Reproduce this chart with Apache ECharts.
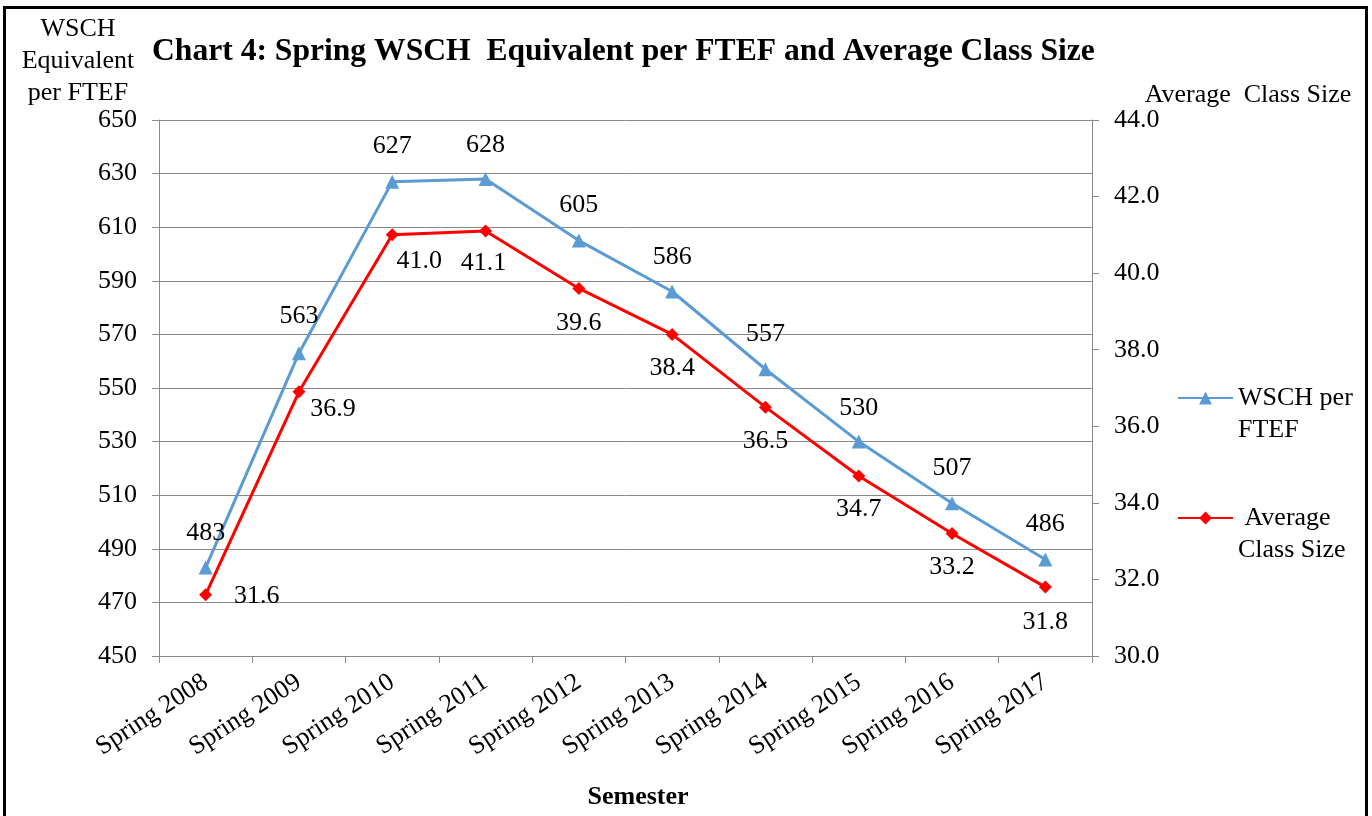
<!DOCTYPE html>
<html>
<head>
<meta charset="utf-8">
<script src="https://cdn.jsdelivr.net/npm/echarts@6/dist/echarts.min.js"></script>
<style>
html, body { margin: 0; padding: 0; background: #fff; }
#chart { position: absolute; left: 0; top: 0; width: 1372px; height: 816px; }
/* black frame round the chart, bottom edge runs off the page */
.frame {
  position: absolute; left: 3px; top: 6px; width: 1359px; height: 900px;
  border: 3px solid #000; pointer-events: none;
}
</style>
</head>
<body>
<div id="chart"></div>
<div class="frame"></div>
<script>
var semesters = ['Spring 2008', 'Spring 2009', 'Spring 2010', 'Spring 2011', 'Spring 2012',
  'Spring 2013', 'Spring 2014', 'Spring 2015', 'Spring 2016', 'Spring 2017'];
var wschPerFtef = [483, 563, 627, 628, 605, 586, 557, 530, 507, 486];
var avgClassSize = [31.6, 36.9, 41.0, 41.1, 39.6, 38.4, 36.5, 34.7, 33.2, 31.8];

// label offsets from the marker centre (styling only)
var wschLabelOffset = [[0, -34], [0, -37], [0, -35], [0, -34], [0, -35], [0, -34], [0, -35], [0, -33], [0, -35], [0, -35]];
var avgLabelOffset = [[51, 1], [34, 17], [27, 26], [-2, 32], [0, 35], [0, 34], [0, 34], [0, 33], [0, 34], [0, 35]];

var FONT = '"Liberation Serif", "Times New Roman", serif';
var GREY = '#898989';

var chart = echarts.init(document.getElementById('chart'));

chart.setOption({
  backgroundColor: '#fff',
  textStyle: { fontFamily: FONT },
  title: {
    text: 'Chart 4: Spring WSCH  Equivalent per FTEF and Average Class Size',
    left: 152, top: 36, padding: 0,
    textStyle: { fontFamily: FONT, fontSize: 31.6, fontWeight: 'bold', color: '#000' }
  },
  grid: { left: 159, right: 280, top: 120, bottom: 160 },
  legend: [
    {
      data: ['WSCH per FTEF'], left: 1177, top: 350, padding: 0, orient: 'vertical',
      itemWidth: 55, itemHeight: 16, itemGap: 5,
      // blank first line keeps the first text line level with the icon
      formatter: function () { return ' \nWSCH per\nFTEF'; },
      textStyle: { fontFamily: FONT, fontSize: 26, color: '#000', lineHeight: 32 }
    },
    {
      data: ['Average Class Size'], left: 1177, top: 470, padding: 0, orient: 'vertical',
      itemWidth: 55, itemHeight: 16, itemGap: 5,
      formatter: function () { return ' \n Average\nClass Size'; },
      textStyle: { fontFamily: FONT, fontSize: 26, color: '#000', lineHeight: 32 }
    }
  ],
  xAxis: {
    type: 'category',
    data: semesters,
    name: 'Semester',
    nameLocation: 'middle',
    nameGap: 128,
    nameTextStyle: { fontFamily: FONT, fontSize: 26, fontWeight: 'bold', color: '#000', padding: [0, 0, 0, 25] },
    axisLine: { lineStyle: { color: GREY, width: 1 } },
    axisTick: { show: true, length: 7, lineStyle: { color: GREY } },
    axisLabel: { rotate: 33, margin: 24, fontFamily: FONT, fontSize: 26, color: '#000', interval: 0 }
  },
  yAxis: [
    {
      type: 'value', min: 450, max: 650, interval: 20,
      name: 'WSCH\nEquivalent\nper FTEF',
      nameLocation: 'end', nameGap: 11, nameMoveOverlap: false,
      nameTextStyle: { fontFamily: FONT, fontSize: 26, color: '#000', lineHeight: 32, align: 'center', verticalAlign: 'bottom', padding: [0, 162, 0, 0] },
      axisLine: { show: true, lineStyle: { color: GREY, width: 1 } },
      axisTick: { show: true, length: 7, lineStyle: { color: GREY } },
      splitLine: { show: true, lineStyle: { color: GREY, width: 1 } },
      axisLabel: { margin: 22, fontFamily: FONT, fontSize: 26, color: '#000' }
    },
    {
      type: 'value', min: 30, max: 44, interval: 2, position: 'right',
      name: 'Average  Class Size',
      nameLocation: 'end', nameGap: 9, nameMoveOverlap: false,
      nameTextStyle: { fontFamily: FONT, fontSize: 26, color: '#000', lineHeight: 32, align: 'center', verticalAlign: 'bottom', padding: [0, 0, 0, 312] },
      axisLine: { show: true, lineStyle: { color: GREY, width: 1 } },
      axisTick: { show: true, length: 7, lineStyle: { color: GREY } },
      splitLine: { show: false },
      axisLabel: {
        margin: 22, fontFamily: FONT, fontSize: 26, color: '#000',
        formatter: function (v) { return v.toFixed(1); }
      }
    }
  ],
  series: [
    {
      name: 'WSCH per FTEF',
      type: 'line',
      yAxisIndex: 0,
      symbol: 'triangle',
      symbolSize: 14,
      color: '#5B9BD5',
      lineStyle: { width: 3, color: '#5B9BD5' },
      itemStyle: { color: '#5B9BD5' },
      label: { show: true, position: 'inside', fontFamily: FONT, fontSize: 26, color: '#000' },
      data: wschPerFtef.map(function (v, i) {
        return { value: v, label: { offset: wschLabelOffset[i] } };
      }),
      z: 3
    },
    {
      name: 'Average Class Size',
      type: 'line',
      yAxisIndex: 1,
      symbol: 'diamond',
      symbolSize: 13,
      color: '#FF0000',
      lineStyle: { width: 3, color: '#FF0000' },
      itemStyle: { color: '#FF0000' },
      label: {
        show: true, position: 'inside', fontFamily: FONT, fontSize: 26, color: '#000',
        formatter: function (p) { return p.value.toFixed(1); }
      },
      data: avgClassSize.map(function (v, i) {
        return { value: v, label: { offset: avgLabelOffset[i] } };
      }),
      z: 3
    }
  ],
  animation: false
});
</script>
</body>
</html>
